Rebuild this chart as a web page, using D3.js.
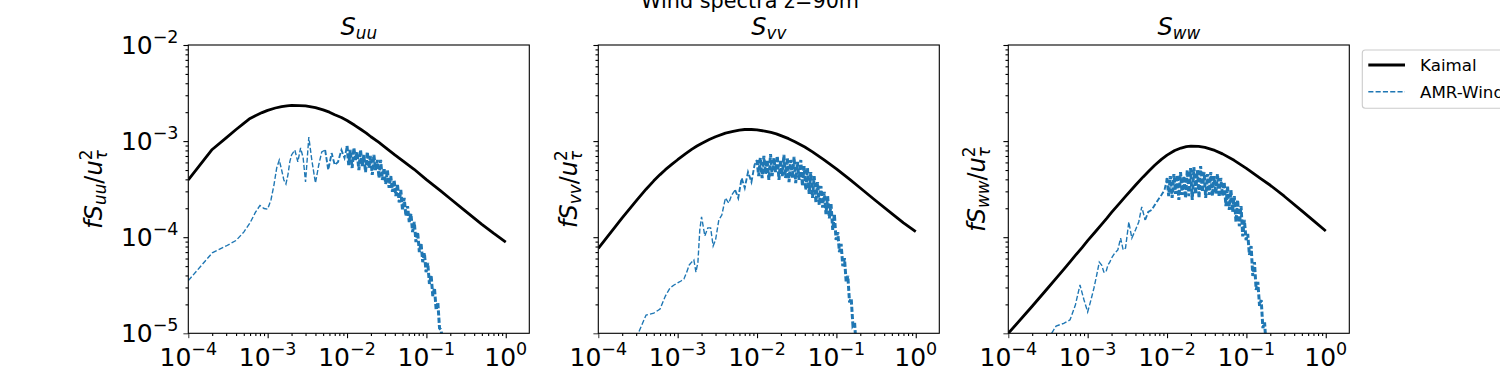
<!DOCTYPE html>
<html>
<head>
<meta charset="utf-8">
<script src="https://cdn.jsdelivr.net/npm/d3@7"></script>
<style>
body { margin: 0; background: #fff; }
svg text { font-family: "DejaVu Sans", sans-serif; fill: #000; }
</style>
</head>
<body>
<div id="chart"></div>
<script>
// Kaimal model spectra
var kFreq = [1e-4, 2e-4, 3e-4, 4e-4, 5e-4, 6e-4, 7e-4, 8.5e-4, 1e-3, 1.25e-3, 1.5e-3, 1.75e-3, 2e-3, 2.5e-3, 3e-3, 4e-3, 5e-3, 6e-3, 7e-3, 8.5e-3,
  1e-2, 1.25e-2, 1.5e-2, 1.75e-2, 2e-2, 2.5e-2, 3e-2, 4e-2, 5e-2, 7e-2, 0.1, 0.15, 0.2, 0.3, 0.5, 0.7, 1.0];
var kUU = [3.94e-4, 8.18e-4, 1.08e-3, 1.32e-3, 1.53e-3, 1.72e-3, 1.84e-3, 1.98e-3, 2.09e-3, 2.21e-3, 2.29e-3, 2.33e-3, 2.35e-3, 2.34e-3, 2.32e-3, 2.23e-3, 2.11e-3, 2.00e-3, 1.88e-3, 1.76e-3,
  1.64e-3, 1.46e-3, 1.32e-3, 1.21e-3, 1.11e-3, 9.75e-4, 8.67e-4, 7.19e-4, 6.26e-4, 5.09e-4, 3.98e-4, 3.05e-4, 2.51e-4, 1.91e-4, 1.36e-4, 1.10e-4, 8.91e-5];
var kVV = [7.66e-5, 1.59e-4, 2.39e-4, 3.16e-4, 3.86e-4, 4.48e-4, 5.04e-4, 5.75e-4, 6.40e-4, 7.36e-4, 8.20e-4, 8.89e-4, 9.46e-4, 1.04e-3, 1.11e-3, 1.21e-3, 1.26e-3, 1.30e-3, 1.32e-3, 1.32e-3,
  1.31e-3, 1.27e-3, 1.23e-3, 1.19e-3, 1.14e-3, 1.06e-3, 9.86e-4, 8.67e-4, 7.73e-4, 6.38e-4, 5.13e-4, 3.94e-4, 3.25e-4, 2.47e-4, 1.76e-4, 1.41e-4, 1.14e-4];
var kWW = [1.00e-5, 1.91e-5, 2.82e-5, 3.73e-5, 4.63e-5, 5.55e-5, 6.46e-5, 7.80e-5, 9.20e-5, 1.14e-4, 1.36e-4, 1.58e-4, 1.81e-4, 2.24e-4, 2.66e-4, 3.47e-4, 4.24e-4, 4.95e-4, 5.60e-4, 6.46e-4,
  7.14e-4, 7.98e-4, 8.47e-4, 8.75e-4, 8.85e-4, 8.81e-4, 8.59e-4, 8.00e-4, 7.36e-4, 6.31e-4, 5.21e-4, 4.09e-4, 3.47e-4, 2.67e-4, 1.88e-4, 1.49e-4, 1.16e-4];

// AMR-Wind spectra (same frequency grid for u, v, w)
var aFreq = [0.0001, 0.0002, 0.0003, 0.0004, 0.0005, 0.0006, 0.0007, 0.0008, 0.0009, 0.0010,
  0.0011, 0.0012, 0.0013, 0.0014, 0.0015, 0.0016, 0.0017, 0.0018, 0.0019, 0.0020,
  0.0022, 0.0024, 0.0026, 0.0028, 0.0030, 0.0033, 0.0036, 0.0040, 0.0044, 0.0048,
  0.0053, 0.0058, 0.0064, 0.0070, 0.0077, 0.0085, 0.0093,
  0.0100, 0.0105, 0.0110, 0.0116, 0.0122, 0.0128, 0.0134, 0.0141, 0.0148, 0.0155,
  0.0163, 0.0171, 0.0180, 0.0189, 0.0198, 0.0208, 0.0218, 0.0229, 0.0241, 0.0253,
  0.0265, 0.0279, 0.0293, 0.0307, 0.0323, 0.0339, 0.0356, 0.0373, 0.0392, 0.0412,
  0.0432, 0.0454, 0.0476, 0.0500, 0.0525, 0.0552, 0.0579, 0.0608, 0.0639, 0.0670,
  0.0704, 0.0739, 0.0776, 0.0815, 0.0856, 0.0899, 0.0943, 0.0991, 0.1040, 0.1092,
  0.1147, 0.1204, 0.1264, 0.1328, 0.1394, 0.1464, 0.1537, 0.1614, 0.1695, 0.1780];

var aUU = [3.53e-5, 6.86e-5, 8.1e-5, 9.25e-5, 1.13e-4, 1.41e-4, 1.81e-4, 2.14e-4, 1.99e-4, 1.96e-4,
  2.44e-4, 3.49e-4, 5.25e-4, 6.36e-4, 5.0e-4, 3.94e-4, 3.58e-4, 4.44e-4, 6.07e-4, 7.17e-4,
  8.08e-4, 6.07e-4, 8.5e-4, 6.68e-4, 3.75e-4, 1.1e-3, 6.36e-4, 3.66e-4, 5.64e-4, 7.7e-4,
  8.08e-4, 5.0e-4, 7.5e-4, 5.64e-4, 6.07e-4, 8.08e-4, 6.68e-4,
  8.9e-4, 5.64e-4, 8.08e-4, 5.25e-4, 8.5e-4, 6.36e-4, 7.7e-4, 5.0e-4, 8.08e-4, 5.5e-4,
  7.17e-4, 4.77e-4, 7.7e-4, 5.25e-4, 7.0e-4, 4.44e-4, 7.17e-4, 5.0e-4, 6.36e-4, 4.13e-4,
  6.36e-4, 3.94e-4, 5.25e-4, 3.58e-4, 5.0e-4, 3.26e-4, 4.33e-4, 2.96e-4, 3.94e-4, 2.68e-4,
  3.58e-4, 2.3e-4, 3.1e-4, 1.92e-4, 2.56e-4, 1.66e-4, 2.11e-4, 1.44e-4, 1.76e-4, 1.13e-4,
  1.44e-4, 8.9e-5, 1.13e-4, 7.0e-5, 8.7e-5, 5.5e-5, 6.86e-5, 4.33e-5, 5.4e-5, 3.26e-5,
  4.04e-5, 2.44e-5, 2.96e-5, 1.75e-5, 2.1e-5, 1.13e-5, 1.08e-5, 6.3e-6, 4.0e-6, 3.0e-6];

var aVV = [3.27e-6, 4.7e-6, 8.9e-6, 1.55e-5, 1.62e-5, 1.79e-5, 2.44e-5, 2.96e-5, 3.18e-5, 3.34e-5,
  3.5e-5, 3.68e-5, 4.33e-5, 5.14e-5, 5.5e-5, 5.79e-5, 4.33e-5, 5.5e-5, 1.19e-4, 1.63e-4,
  1.03e-4, 1.25e-4, 1.25e-4, 8.1e-5, 9.35e-5, 1.51e-4, 1.70e-4, 2.56e-4, 2.26e-4, 2.75e-4,
  3.10e-4, 2.56e-4, 4.13e-4, 3.26e-4, 4.77e-4, 3.75e-4, 5.64e-4,
  6.36e-4, 4.33e-4, 6.68e-4, 4.13e-4, 7.0e-4, 4.54e-4, 6.36e-4, 3.94e-4, 7.33e-4, 4.33e-4,
  6.68e-4, 4.77e-4, 7.0e-4, 3.94e-4, 6.36e-4, 4.33e-4, 7.17e-4, 4.13e-4, 6.68e-4, 3.75e-4,
  6.36e-4, 4.13e-4, 6.84e-4, 3.66e-4, 6.07e-4, 3.94e-4, 6.36e-4, 3.41e-4, 5.5e-4, 3.1e-4,
  5.25e-4, 2.82e-4, 4.77e-4, 2.56e-4, 4.33e-4, 2.3e-4, 3.75e-4, 2.16e-4, 3.41e-4, 2.03e-4,
  2.96e-4, 1.74e-4, 2.68e-4, 1.57e-4, 2.21e-4, 1.19e-4, 1.74e-4, 9.35e-5, 1.13e-4, 7.0e-5,
  8.5e-5, 5.0e-5, 6.07e-5, 3.42e-5, 3.95e-5, 2.1e-5, 2.31e-5, 1.22e-5, 1.3e-5, 7.0e-6];

var aWW = [2.0e-6, 4.15e-6, 8.1e-6, 1.19e-5, 1.27e-5, 1.38e-5, 1.97e-5, 3.18e-5, 2.22e-5, 1.67e-5,
  2.22e-5, 2.96e-5, 4.04e-5, 5.5e-5, 5.14e-5, 4.33e-5, 4.33e-5, 5.14e-5, 5.5e-5, 6.07e-5,
  6.86e-5, 7.36e-5, 9.8e-5, 7.36e-5, 7.7e-5, 1.44e-4, 9.8e-5, 1.19e-4, 1.44e-4, 2.07e-4,
  1.51e-4, 1.83e-4, 1.92e-4, 2.16e-4, 2.44e-4, 2.75e-4, 3.10e-4,
  4.13e-4, 2.68e-4, 4.33e-4, 2.56e-4, 4.54e-4, 2.82e-4, 4.44e-4, 2.44e-4, 4.77e-4, 2.75e-4,
  4.33e-4, 2.56e-4, 5.0e-4, 2.68e-4, 5.25e-4, 2.44e-4, 5.38e-4, 2.82e-4, 5.0e-4, 2.56e-4,
  5.5e-4, 2.96e-4, 4.77e-4, 2.56e-4, 4.54e-4, 2.75e-4, 4.77e-4, 2.68e-4, 4.33e-4, 2.82e-4,
  4.54e-4, 2.62e-4, 4.13e-4, 2.68e-4, 3.75e-4, 2.11e-4, 3.41e-4, 1.92e-4, 3.10e-4, 1.83e-4,
  2.68e-4, 1.44e-4, 2.44e-4, 1.3e-4, 2.11e-4, 1.02e-4, 1.51e-4, 9.35e-5, 1.08e-4, 6.53e-5,
  8.1e-5, 3.95e-5, 5.5e-5, 2.82e-5, 3.42e-5, 1.93e-5, 2.22e-5, 1.13e-5, 1.3e-5, 7.0e-6];

var xTicks = [1e-4, 1e-3, 1e-2, 1e-1, 1];
var xTickExp = ["\u22124", "\u22123", "\u22122", "\u22121", "0"];
var yTicks = [1e-5, 1e-4, 1e-3, 1e-2];
var yTickExp = ["\u22125", "\u22124", "\u22123", "\u22122"];
var comps = ["uu", "vv", "ww"];
var legendNames = ["Kaimal", "AMR-Wind"];
var figTitle = "Wind spectra z=90m";

var blue = "#1f77b4";
var svg = d3.select("#chart").append("svg").attr("width", 1500).attr("height", 375);

var panelLeft = [188.3, 598.3, 1008.3];
var labelOff = [86, 21, 23];
var axTop = 45, axW = 341, axH = 288.3;
var kSeries = [kUU, kVV, kWW];
var aSeries = [aUU, aVV, aWW];
// the raw spectrum gets denser with frequency, so the later pieces are drawn heavier
var pieces = [[0, 30, 1.39], [30, 37, 1.9], [37, 97, 3.0]];

// minor ticks 2..9 in each decade
var xMinor = [], yMinor = [];
for (var e = -4; e <= 0; e++) {
  for (var m = 2; m < 10; m++) {
    if (m * Math.pow(10, e) < 1.98) xMinor.push(m * Math.pow(10, e));
  }
}
for (var e = -5; e < -2; e++) {
  for (var m = 2; m < 10; m++) yMinor.push(m * Math.pow(10, e));
}

function powLabel(sel, exp, bigSize, supSize) {
  sel.append("tspan").style("font-size", bigSize + "px").text("10");
  sel.append("tspan").style("font-size", supSize + "px").attr("dy", -11).text(exp);
}

for (var p = 0; p < 3; p++) {
  var left = panelLeft[p];
  var x = d3.scaleLog().domain([1e-4, 1.98]).range([left, left + axW]);
  var y = d3.scaleLog().domain([1e-5, 1e-2]).range([axTop + axH, axTop]);
  var g = svg.append("g");

  g.append("clipPath").attr("id", "clip" + p).append("rect").
    attr("x", left).attr("y", axTop).attr("width", axW).attr("height", axH);

  var line = d3.line().x(function(d) { return x(d[0]); }).y(function(d) { return y(d[1]); });
  var kd = kFreq.map(function(f, i) { return [f, kSeries[p][i]]; });
  var ad = aFreq.map(function(f, i) { return [f, aSeries[p][i]]; });

  g.append("path").datum(kd).
    attr("clip-path", "url(#clip" + p + ")").
    attr("d", line).
    attr("fill", "none").attr("stroke", "#000").attr("stroke-width", 2.8).
    attr("stroke-linejoin", "round");

  for (var s = 0; s < pieces.length; s++) {
    g.append("path").datum(ad.slice(pieces[s][0], pieces[s][1] + 1)).
      attr("clip-path", "url(#clip" + p + ")").
      attr("d", line).
      attr("fill", "none").attr("stroke", blue).attr("stroke-width", pieces[s][2]).
      attr("stroke-dasharray", "5.1,2.2");
  }

  // ticks
  var bx = g.append("g").attr("transform", "translate(0," + (axTop + axH) + ")");
  bx.call(d3.axisBottom(x).tickValues(xTicks).tickSize(4.9).tickFormat(""));
  bx.append("g").call(d3.axisBottom(x).tickValues(xMinor).tickSize(2.8).tickFormat(""));
  bx.selectAll(".domain").remove();

  var ly = g.append("g").attr("transform", "translate(" + left + ",0)");
  ly.call(d3.axisLeft(y).tickValues(yTicks).tickSize(4.9).tickFormat(""));
  ly.append("g").call(d3.axisLeft(y).tickValues(yMinor).tickSize(2.8).tickFormat(""));
  ly.selectAll(".domain").remove();
  g.selectAll(".tick line").attr("stroke-width", 1.1);
  bx.select("g").selectAll(".tick line").attr("stroke-width", 0.8);
  ly.select("g").selectAll(".tick line").attr("stroke-width", 0.8);

  for (var i = 0; i < xTicks.length; i++) {
    var t = g.append("text").attr("x", x(xTicks[i])).attr("y", 366).attr("text-anchor", "middle");
    powLabel(t, xTickExp[i], 25, 17.5);
  }
  if (p == 0) {
    for (var i = 0; i < yTicks.length; i++) {
      var t = g.append("text").attr("x", left - 9.8).attr("y", y(yTicks[i]) + 9).attr("text-anchor", "end");
      powLabel(t, yTickExp[i], 25, 17.5);
    }
  }

  // frame
  g.append("rect").attr("x", left).attr("y", axTop).attr("width", axW).attr("height", axH).
    attr("fill", "none").attr("stroke", "#000").attr("stroke-width", 1.1);

  // title S_xx
  var tt = g.append("text").attr("x", left + axW / 2).attr("y", 34.5).attr("text-anchor", "middle").
    style("font-size", "24px");
  tt.append("tspan").style("font-style", "italic").text("S");
  tt.append("tspan").style("font-style", "italic").style("font-size", "16.8px").attr("dy", 4).text(comps[p]);

  // y label f S_xx / u_tau^2
  var yl = g.append("text").
    attr("transform", "translate(" + (left - labelOff[p]) + "," + (axTop + axH / 2) + ") rotate(-90)").
    attr("text-anchor", "middle").style("font-size", "24px");
  yl.append("tspan").style("font-style", "italic").text("fS");
  yl.append("tspan").style("font-style", "italic").style("font-size", "16.8px").attr("dy", 4).text(comps[p]);
  yl.append("tspan").attr("dy", -4).text("/");
  yl.append("tspan").style("font-style", "italic").text("u");
  yl.append("tspan").style("font-size", "16.8px").attr("dy", -10).text("2");
  yl.append("tspan").style("font-style", "italic").style("font-size", "16.8px").attr("dx", -10.7).attr("dy", 15).text("\u03c4");
}

// suptitle (its top is cut off by the figure edge, as in the original)
svg.append("text").attr("x", 750).attr("y", 7.5).attr("text-anchor", "middle").
  style("font-size", "20.8px").text(figTitle);

// legend
var lg = svg.append("g");
lg.append("rect").attr("x", 1362.3).attr("y", 50).attr("width", 160).attr("height", 58.3).
  attr("rx", 3).attr("fill", "#fff").attr("fill-opacity", 0.8).attr("stroke", "#cccccc").attr("stroke-width", 1.1);
var legY = [65, 91.7];
var legStyle = [{c: "#000", w: 2.8, d: null}, {c: blue, w: 1.39, d: "5.1,2.2"}];
for (var i = 0; i < 2; i++) {
  lg.append("line").attr("x1", 1368.3).attr("x2", 1405).attr("y1", legY[i]).attr("y2", legY[i]).
    attr("stroke", legStyle[i].c).attr("stroke-width", legStyle[i].w).
    attr("stroke-dasharray", legStyle[i].d);
  lg.append("text").attr("x", 1420).attr("y", legY[i] + 6).style("font-size", "16.7px").text(legendNames[i]);
}
</script>
</body>
</html>
